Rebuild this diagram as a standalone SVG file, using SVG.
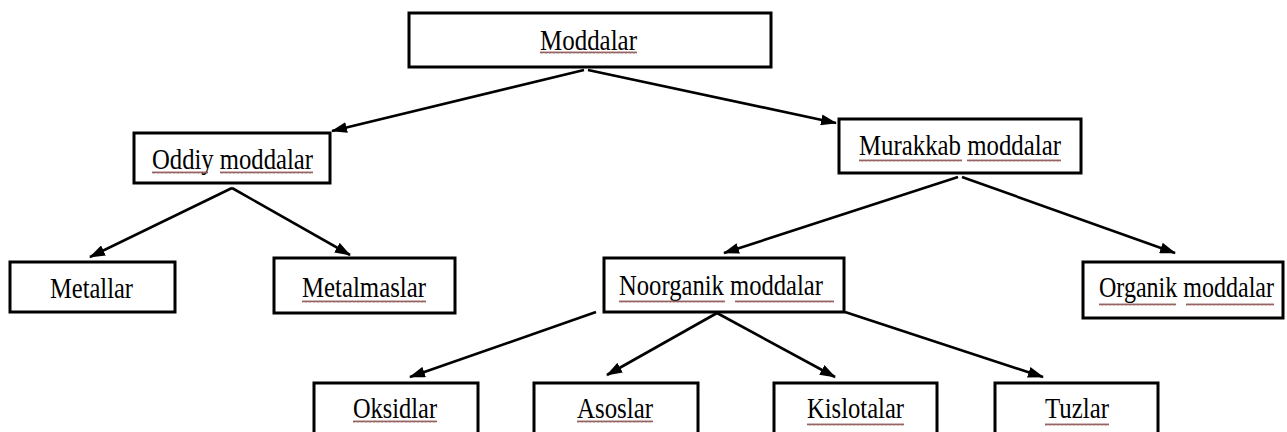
<svg xmlns="http://www.w3.org/2000/svg" width="1287" height="432" viewBox="0 0 1287 432">
<style>
.box{fill:#fff;stroke:#000;stroke-width:3}
.t{font-family:"Liberation Serif","Times New Roman",serif;font-size:24.5px;fill:#000}
.con line{stroke:#000;stroke-width:2.6;marker-end:url(#ah)}
.sq{fill:url(#wave)}
</style>
<defs>
<marker id="ah" viewBox="0 0 16 11" refX="15" refY="5.5" markerWidth="16" markerHeight="11" markerUnits="userSpaceOnUse" orient="auto">
<path d="M0,0 L16,5.5 L0,11 Z" fill="#000"/>
</marker>
<pattern id="wave" width="4" height="3" patternUnits="userSpaceOnUse">
<path d="M0,2.5 L1,0.5 L2,2.5 L3,0.5 L4,2.5" fill="none" stroke="#8a5050" stroke-width="0.9"/>
</pattern>
</defs>
<rect width="1287" height="432" fill="#fff"/>
<g id="connectors" class="con">
<line x1="584" y1="70" x2="332" y2="131"/>
<line x1="588" y1="70" x2="836" y2="123"/>
<line x1="232" y1="188" x2="90" y2="257"/>
<line x1="232" y1="188" x2="350" y2="255"/>
<line x1="958" y1="177" x2="724" y2="253"/>
<line x1="962" y1="177" x2="1175" y2="253"/>
<line x1="596" y1="312" x2="410" y2="377"/>
<line x1="717" y1="313" x2="607" y2="375"/>
<line x1="717" y1="313" x2="835" y2="377"/>
<line x1="845" y1="312" x2="1043" y2="377"/>
</g>
<g id="n-moddalar">
<rect class="box" x="409" y="13" width="362" height="54"/>
<text class="t" transform="translate(540,50) scale(1,1.22)" textLength="97" lengthAdjust="spacingAndGlyphs">Moddalar</text>
<rect class="sq" x="540" y="51" width="97" height="3"/>
</g>
<g id="n-oddiy">
<rect class="box" x="134" y="133" width="196" height="50"/>
<text class="t" transform="translate(152,169) scale(1,1.22)" textLength="161" lengthAdjust="spacingAndGlyphs">Oddiy moddalar</text>
<rect class="sq" x="152" y="171" width="56" height="3"/>
<rect class="sq" x="220" y="171" width="93" height="3"/>
</g>
<g id="n-murakkab">
<rect class="box" x="839" y="119" width="242" height="54"/>
<text class="t" transform="translate(859,155) scale(1,1.22)" textLength="202" lengthAdjust="spacingAndGlyphs">Murakkab moddalar</text>
<rect class="sq" x="859" y="159" width="103" height="3"/>
<rect class="sq" x="967" y="159" width="94" height="3"/>
</g>
<g id="n-metallar">
<rect class="box" x="10" y="262" width="165" height="50"/>
<text class="t" transform="translate(50,298) scale(1,1.22)" textLength="83" lengthAdjust="spacingAndGlyphs">Metallar</text>
</g>
<g id="n-metalmaslar">
<rect class="box" x="274" y="258" width="181" height="55"/>
<text class="t" transform="translate(302,297) scale(1,1.22)" textLength="124" lengthAdjust="spacingAndGlyphs">Metalmaslar</text>
<rect class="sq" x="302" y="300" width="124" height="3"/>
</g>
<g id="n-noorganik">
<rect class="box" x="604" y="258" width="240" height="54"/>
<text class="t" transform="translate(619,295) scale(1,1.22)" textLength="204" lengthAdjust="spacingAndGlyphs">Noorganik moddalar</text>
<rect class="sq" x="619" y="300" width="106" height="3"/>
<rect class="sq" x="735" y="300" width="99" height="3"/>
</g>
<g id="n-organik">
<rect class="box" x="1083" y="262" width="200" height="56"/>
<text class="t" transform="translate(1099,297) scale(1,1.22)" textLength="175" lengthAdjust="spacingAndGlyphs">Organik moddalar</text>
<rect class="sq" x="1099" y="303" width="77" height="3"/>
<rect class="sq" x="1186" y="303" width="88" height="3"/>
</g>
<g id="n-oksidlar">
<rect class="box" x="314" y="383" width="164" height="60"/>
<text class="t" transform="translate(353,418) scale(1,1.22)" textLength="84" lengthAdjust="spacingAndGlyphs">Oksidlar</text>
<rect class="sq" x="353" y="420" width="84" height="3"/>
</g>
<g id="n-asoslar">
<rect class="box" x="534" y="383" width="164" height="60"/>
<text class="t" transform="translate(577,418) scale(1,1.22)" textLength="76" lengthAdjust="spacingAndGlyphs">Asoslar</text>
<rect class="sq" x="577" y="420" width="76" height="3"/>
</g>
<g id="n-kislotalar">
<rect class="box" x="774" y="383" width="163" height="60"/>
<text class="t" transform="translate(807,418) scale(1,1.22)" textLength="97" lengthAdjust="spacingAndGlyphs">Kislotalar</text>
<rect class="sq" x="807" y="423" width="97" height="3"/>
</g>
<g id="n-tuzlar">
<rect class="box" x="995" y="383" width="163" height="60"/>
<text class="t" transform="translate(1045,418) scale(1,1.22)" textLength="64" lengthAdjust="spacingAndGlyphs">Tuzlar</text>
<rect class="sq" x="1045" y="423" width="64" height="3"/>
</g>
</svg>
